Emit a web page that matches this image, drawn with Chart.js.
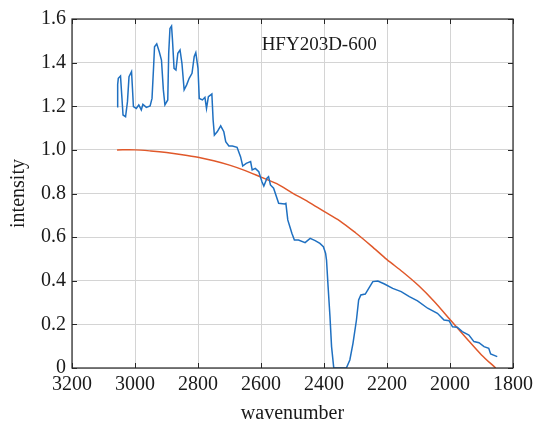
<!DOCTYPE html>
<html>
<head>
<meta charset="utf-8">
<script src="https://cdn.jsdelivr.net/npm/chart.js@4/dist/chart.umd.min.js"></script>
<style>
  body { margin: 0; background: #fff; }
  #wrap { width: 538px; height: 426px; }
</style>
</head>
<body>
<div id="wrap"><canvas id="chart" width="538" height="426"></canvas></div>
<script>
// measured spectrum (blue)
const blueWave = [3057, 3055, 3053, 3046, 3042, 3038, 3030, 3024, 3019, 3011, 3008, 3005, 2996, 2988, 2980, 2975,
  2964, 2952, 2946, 2941, 2938, 2931, 2923, 2916, 2910, 2905, 2896, 2893, 2889, 2884, 2881, 2876, 2870, 2864,
  2857, 2851, 2844, 2836, 2828, 2819, 2812, 2807, 2800, 2796, 2786, 2778, 2773, 2767, 2756, 2752, 2748, 2739,
  2728, 2718, 2712, 2702, 2691, 2676, 2665, 2658, 2647, 2633, 2628, 2618, 2607, 2597, 2591, 2581, 2576, 2570,
  2560, 2544, 2525, 2521, 2515, 2502, 2494, 2481, 2460, 2444, 2428, 2413, 2402, 2395, 2392, 2387, 2381, 2376,
  2369, 2329, 2318, 2308, 2297, 2290, 2283, 2269, 2258, 2245, 2229, 2208, 2182, 2155, 2129, 2103, 2071, 2040,
  2019, 2003, 1992, 1977, 1961, 1940, 1924, 1908, 1892, 1877, 1871, 1850];
const blueIntensity = [1.198, 1.30, 1.328, 1.339, 1.25, 1.16, 1.152, 1.22, 1.336, 1.359, 1.28, 1.198, 1.19, 1.206, 1.183, 1.209,
  1.195, 1.201, 1.236, 1.38, 1.473, 1.486, 1.45, 1.412, 1.275, 1.206, 1.229, 1.443, 1.557, 1.568, 1.504, 1.374, 1.366, 1.443,
  1.458, 1.397, 1.275, 1.298, 1.328, 1.351, 1.428, 1.446, 1.374, 1.236, 1.229, 1.241, 1.19, 1.244, 1.256, 1.137, 1.068, 1.083,
  1.11, 1.083, 1.038, 1.018, 1.018, 1.012, 0.969, 0.926, 0.938, 0.946, 0.908, 0.915, 0.9, 0.854, 0.834, 0.87, 0.877, 0.839,
  0.824, 0.755, 0.752, 0.755, 0.679, 0.618, 0.587, 0.587, 0.575, 0.594, 0.584, 0.571, 0.556, 0.526, 0.495, 0.373, 0.235, 0.098,
  0.0, 0.0, 0.037, 0.113, 0.22, 0.312, 0.335, 0.339, 0.365, 0.396, 0.399, 0.385, 0.365, 0.35, 0.327, 0.308, 0.274, 0.251,
  0.22, 0.217, 0.189, 0.187, 0.167, 0.151, 0.121, 0.116, 0.098, 0.09, 0.064, 0.052];

// baseline curve (orange)
const orangeWave = [3057, 3000, 2950, 2900, 2850, 2800, 2750, 2700, 2650, 2600, 2550, 2500, 2450,
  2400, 2350, 2300, 2250, 2200, 2150, 2100, 2050, 2000, 1950, 1900, 1855];
const orangeIntensity = [1.0, 1.0, 0.995, 0.988, 0.978, 0.966, 0.95, 0.93, 0.905, 0.875, 0.845, 0.802, 0.762,
  0.718, 0.675, 0.62, 0.56, 0.497, 0.44, 0.378, 0.305, 0.222, 0.14, 0.06, 0.0];

const xTicks = [3200, 3000, 2800, 2600, 2400, 2200, 2000, 1800];
const yTicks = [0, 0.2, 0.4, 0.6, 0.8, 1.0, 1.2, 1.4, 1.6];
const sampleLabel = 'HFY203D-600';

const toPoints = (xs, ys) => xs.map((x, i) => ({ x: x, y: ys[i] }));

Chart.defaults.font.family = "'Liberation Serif', 'DejaVu Serif', serif";
Chart.defaults.font.size = 20;
Chart.defaults.color = '#1a1a1a';

// box, inward ticks and sample label (matlab look)
const framePlugin = {
  id: 'frame',
  afterDatasetsDraw(chart) {
    const { ctx, chartArea: a, scales } = chart;
    ctx.save();
    ctx.strokeStyle = '#262626';
    ctx.lineWidth = 1.2;
    ctx.strokeRect(a.left, a.top, a.right - a.left, a.bottom - a.top);
    ctx.lineWidth = 1;
    ctx.beginPath();
    xTicks.forEach(t => {
      const px = Math.round(scales.x.getPixelForValue(t)) + 0.5;
      ctx.moveTo(px, a.bottom); ctx.lineTo(px, a.bottom - 5);
      ctx.moveTo(px, a.top); ctx.lineTo(px, a.top + 5);
    });
    yTicks.forEach(t => {
      const py = Math.round(scales.y.getPixelForValue(t)) + 0.5;
      ctx.moveTo(a.left, py); ctx.lineTo(a.left + 5, py);
      ctx.moveTo(a.right, py); ctx.lineTo(a.right - 5, py);
    });
    ctx.stroke();
    ctx.fillStyle = '#1a1a1a';
    ctx.font = "19px 'Liberation Serif'";
    ctx.textAlign = 'left';
    ctx.textBaseline = 'middle';
    ctx.fillText(sampleLabel, scales.x.getPixelForValue(2598), scales.y.getPixelForValue(1.48));
    ctx.restore();
  }
};

new Chart(document.getElementById('chart').getContext('2d'), {
  type: 'line',
  data: {
    datasets: [
      {
        label: 'measured',
        data: toPoints(blueWave, blueIntensity),
        borderColor: '#1f70c1',
        borderWidth: 1.5,
        pointRadius: 0,
        tension: 0
      },
      {
        label: 'baseline',
        data: toPoints(orangeWave, orangeIntensity),
        borderColor: '#e0582a',
        borderWidth: 1.5,
        pointRadius: 0,
        tension: 0.3
      }
    ]
  },
  options: {
    responsive: false,
    animation: false,
    layout: { padding: { left: 0, right: 22, top: 19, bottom: 0 } },
    plugins: { legend: { display: false }, tooltip: { enabled: false } },
    scales: {
      x: {
        type: 'linear',
        reverse: true,
        min: 1800,
        max: 3200,
        afterBuildTicks: s => { s.ticks = xTicks.map(v => ({ value: v })); },
        afterFit: s => { s.height = 58; },
        ticks: { padding: 5, maxRotation: 0, autoSkip: false, callback: v => String(v) },
        grid: { color: '#d4d4d4', drawTicks: false },
        border: { display: false },
        title: { display: true, text: 'wavenumber', padding: { bottom: 0 } }
      },
      y: {
        min: 0,
        max: 1.6,
        afterBuildTicks: s => { s.ticks = yTicks.map(v => ({ value: v })); },
        afterFit: s => { s.width = 72; },
        ticks: { padding: 6, callback: v => v === 0 ? '0' : v.toFixed(1) },
        grid: { color: '#d4d4d4', drawTicks: false },
        border: { display: false },
        title: { display: true, text: 'intensity', padding: { top: 7 } }
      }
    }
  },
  plugins: [framePlugin]
});
</script>
</body>
</html>
